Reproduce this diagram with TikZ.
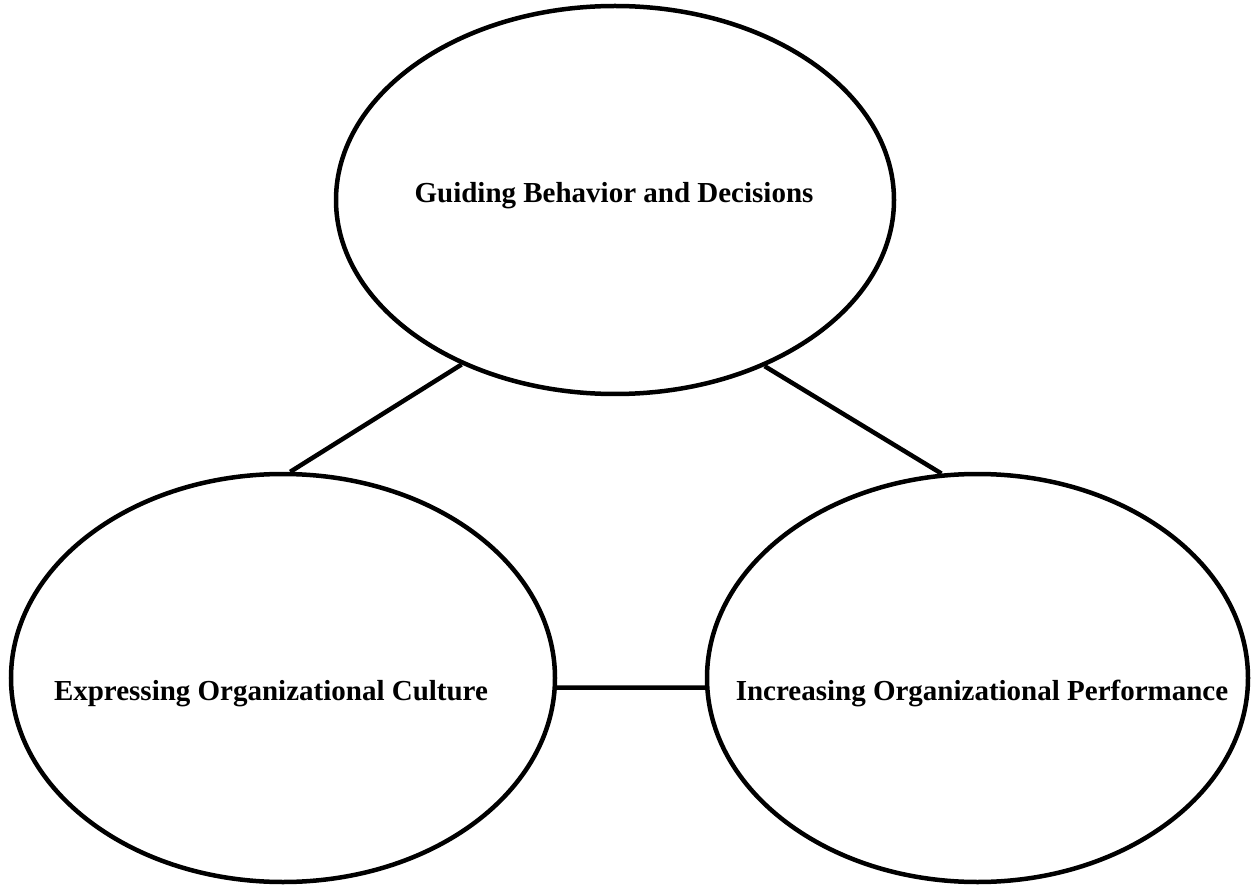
\documentclass[tikz,border=0pt]{standalone}
\usepackage{fontspec}
\setmainfont{Liberation Serif}
\usetikzlibrary{shapes.geometric}

\begin{document}
\begin{tikzpicture}[x=1pt,y=-1pt,
  bubble/.style={ellipse, draw=black, line width=4.5pt, inner sep=0pt},
  caption/.style={anchor=base, inner sep=0pt, font=\fontsize{29}{34}\selectfont\bfseries},
  link/.style={draw=black, line width=4.5pt}]
  \useasboundingbox (0,0) rectangle (1251,885);

  % the three bubbles
  \node[bubble, minimum width=558pt, minimum height=388pt] (guide) at (615,200) {};
  \node[bubble, minimum width=544pt, minimum height=408pt] (culture) at (283,678) {};
  \node[bubble, minimum width=541pt, minimum height=408pt] (perform) at (977.5,678) {};

  % their labels
  \node[caption] (guideTxt) at (614,203) {Guiding Behavior and Decisions};
  \node[caption] (cultureTxt) at (271,700) {Expressing Organizational Culture};
  \node[caption] (performTxt) at (982,700) {Increasing Organizational Performance};

  % links between the bubbles
  \draw[link] (guide.227.3) -- (culture.88);
  \draw[link] (guide.312.7) -- (perform.100);
  \draw[link] (culture.-2.4) -- (perform.182.4);
\end{tikzpicture}
\end{document}
